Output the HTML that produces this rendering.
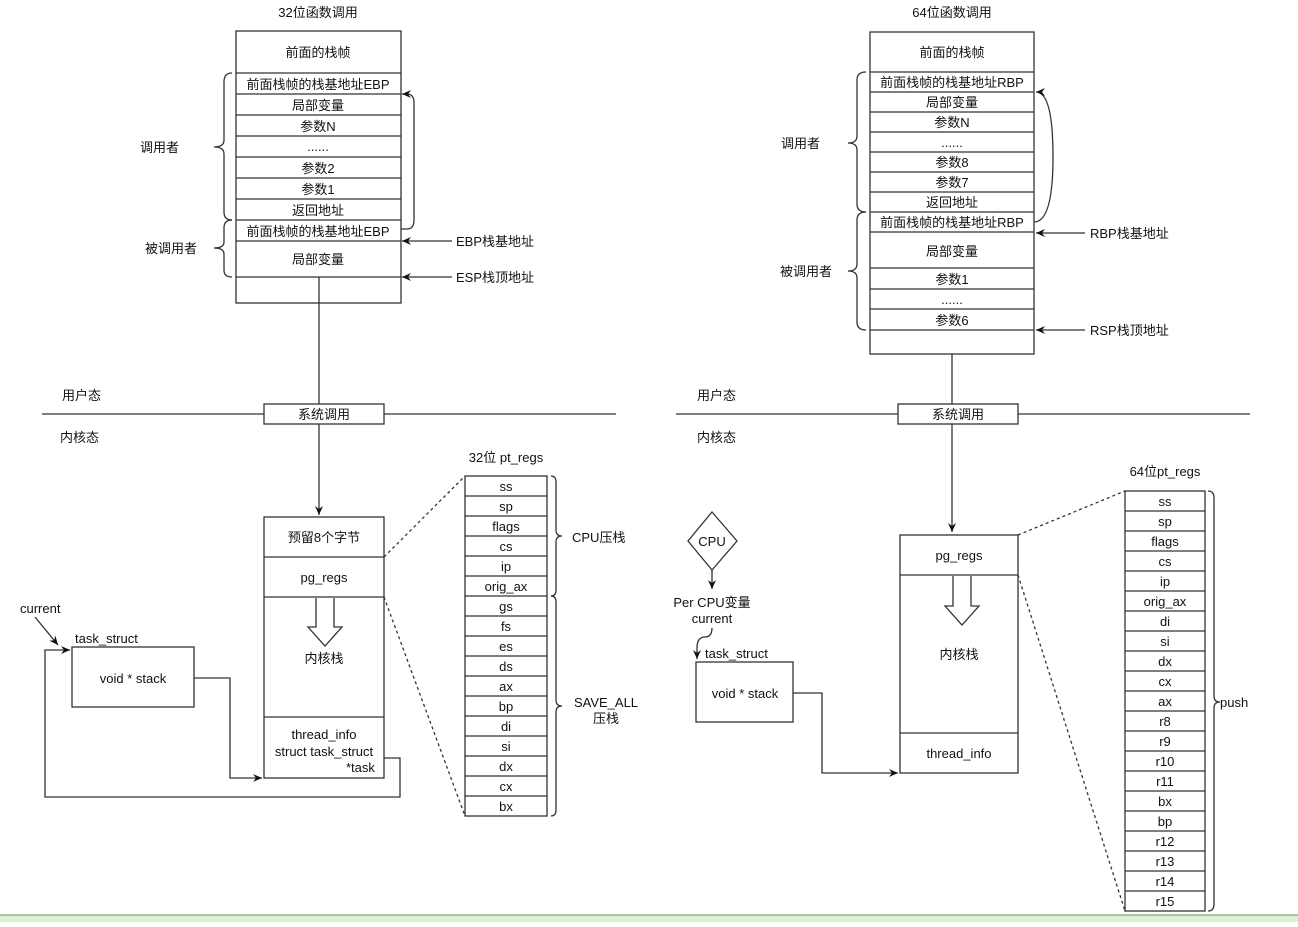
<!DOCTYPE html>
<html><head><meta charset="utf-8"><style>
body{margin:0;background:#fff}
svg text{font-family:"Liberation Sans","Noto Sans CJK SC",sans-serif;font-size:13px;fill:#111}
</style></head><body>
<svg width="1298" height="922" viewBox="0 0 1298 922" xmlns="http://www.w3.org/2000/svg">
<defs><marker id="a" markerWidth="10" markerHeight="10" refX="9" refY="5" orient="auto" markerUnits="userSpaceOnUse"><path d="M0,1 L9,5 L0,9 L3,5 z" fill="#111"/></marker></defs>
<g stroke="#333" stroke-width="1.3" fill="none">
<rect x="236" y="31" width="165" height="272"/>
<path d="M236 73H401M236 94H401M236 115H401M236 136H401M236 157H401M236 178H401M236 199H401M236 220H401M236 241H401M236 277H401"/>
<path d="M232 73 Q224 73 224 82 V140 Q224 147 214 147 Q224 147 224 154 V212 Q224 220 232 220"/>
<path d="M232 220 Q224 220 224 228 V242 Q224 248 214 248 Q224 248 224 254 V270 Q224 277 232 277"/>
<path d="M401 229 H407 Q414 229 414 220 V103 Q414 94 407 94 H402" marker-end="url(#a)"/>
<path d="M452 241 H402" marker-end="url(#a)"/>
<path d="M452 277 H402" marker-end="url(#a)"/>
<path d="M319 277 V515" marker-end="url(#a)"/>
<path d="M42 414 H616"/>
<rect x="264" y="404" width="120" height="20" fill="#fff"/>
<rect x="264" y="517" width="120" height="261"/>
<path d="M264 557H384M264 597H384M264 717H384"/>
<path d="M316 598 V627 H308 L325 646 L342 627 H334 V598"/>
<rect x="465" y="476" width="82" height="340"/>
<path d="M465 496H547M465 516H547M465 536H547M465 556H547M465 576H547M465 596H547M465 616H547M465 636H547M465 656H547M465 676H547M465 696H547M465 716H547M465 736H547M465 756H547M465 776H547M465 796H547"/>
<path d="M551 476 Q556 476 556 482 V530 Q556 536 562 536 Q556 536 556 542 V590 Q556 596 551 596"/>
<path d="M551 596 Q556 596 556 602 V700 Q556 706 562 706 Q556 706 556 712 V810 Q556 816 551 816"/>
<path d="M384 557 L465 476 M384 597 L465 816" stroke-dasharray="3,3"/>
<rect x="72" y="647" width="122" height="60"/>
<path d="M35 617 L58 645" marker-end="url(#a)"/>
<path d="M194 678 H230 V778 H262" marker-end="url(#a)"/>
<path d="M384 758 H400 V797 H45 V650 H70" marker-end="url(#a)"/>
<rect x="870" y="32" width="164" height="322"/>
<path d="M870 72H1034M870 92H1034M870 112H1034M870 132H1034M870 152H1034M870 172H1034M870 192H1034M870 212H1034M870 232H1034M870 268H1034M870 289H1034M870 309H1034M870 330H1034"/>
<path d="M866 72 Q857 72 857 80 V136 Q857 143 848 143 Q857 143 857 150 V204 Q857 212 866 212"/>
<path d="M866 212 Q857 212 857 220 V264 Q857 271 848 271 Q857 271 857 278 V322 Q857 330 866 330"/>
<path d="M1034 222 Q1053 222 1053 157 Q1053 92 1036 92" marker-end="url(#a)"/>
<path d="M1085 233 H1036" marker-end="url(#a)"/>
<path d="M1085 330 H1036" marker-end="url(#a)"/>
<path d="M952 354 V532" marker-end="url(#a)"/>
<path d="M676 414 H1250"/>
<rect x="898" y="404" width="120" height="20" fill="#fff"/>
<rect x="900" y="535" width="118" height="238"/>
<path d="M900 575H1018M900 733H1018"/>
<path d="M953 576 V606 H945 L962 625 L979 606 H971 V576"/>
<rect x="1125" y="491" width="80" height="420"/>
<path d="M1125 511H1205M1125 531H1205M1125 551H1205M1125 571H1205M1125 591H1205M1125 611H1205M1125 631H1205M1125 651H1205M1125 671H1205M1125 691H1205M1125 711H1205M1125 731H1205M1125 751H1205M1125 771H1205M1125 791H1205M1125 811H1205M1125 831H1205M1125 851H1205M1125 871H1205M1125 891H1205"/>
<path d="M1208 491 Q1214 491 1214 498 V696 Q1214 702 1220 702 Q1214 702 1214 708 V904 Q1214 911 1208 911"/>
<path d="M1018 535 L1125 491 M1018 575 L1125 911" stroke-dasharray="3,3"/>
<path d="M712 512 L737 541 L712 570 L688 541 z"/>
<path d="M712 570 V589" marker-end="url(#a)"/>
<path d="M712 628 Q712 637 705 637 Q697 637 697 648 V659" marker-end="url(#a)"/>
<rect x="696" y="662" width="97" height="60"/>
<path d="M793 693 H822 V773 H898" marker-end="url(#a)"/>
</g>
<rect x="0" y="915" width="1298" height="7" fill="#dff0d0"/>
<line x1="0" y1="915" x2="1298" y2="915" stroke="#6a9a50"/>
<g text-anchor="middle">
<text x="318" y="17">32位函数调用</text>
<text x="318" y="57">前面的栈帧</text>
<text x="318" y="89">前面栈帧的栈基地址EBP</text>
<text x="318" y="110">局部变量</text>
<text x="318" y="131">参数N</text>
<text x="318" y="151">......</text>
<text x="318" y="173">参数2</text>
<text x="318" y="194">参数1</text>
<text x="318" y="215">返回地址</text>
<text x="318" y="236">前面栈帧的栈基地址EBP</text>
<text x="318" y="264">局部变量</text>
<text x="324" y="419">系统调用</text>
<text x="324" y="542">预留8个字节</text>
<text x="324" y="582">pg_regs</text>
<text x="324" y="663" font-size="11">内核栈</text>
<text x="324" y="739">thread_info</text>
<text x="324" y="756">struct task_struct</text>
<text x="506" y="462">32位 pt_regs</text>
<g transform="translate(0,-4)">
<text x="506" y="495">ss</text><text x="506" y="515">sp</text><text x="506" y="535">flags</text><text x="506" y="555">cs</text><text x="506" y="575">ip</text><text x="506" y="595">orig_ax</text><text x="506" y="615">gs</text><text x="506" y="635">fs</text><text x="506" y="655">es</text><text x="506" y="675">ds</text><text x="506" y="695">ax</text><text x="506" y="715">bp</text><text x="506" y="735">di</text><text x="506" y="755">si</text><text x="506" y="775">dx</text><text x="506" y="795">cx</text><text x="506" y="815">bx</text>
</g>
<text x="606" y="707">SAVE_ALL</text><text x="606" y="723">压栈</text>
<text x="133" y="683">void * stack</text>
<text x="952" y="17">64位函数调用</text>
<text x="952" y="57">前面的栈帧</text>
<text x="952" y="87">前面栈帧的栈基地址RBP</text>
<text x="952" y="107">局部变量</text>
<text x="952" y="127">参数N</text>
<text x="952" y="147">......</text>
<text x="952" y="167">参数8</text>
<text x="952" y="187">参数7</text>
<text x="952" y="207">返回地址</text>
<text x="952" y="227">前面栈帧的栈基地址RBP</text>
<text x="952" y="256">局部变量</text>
<text x="952" y="284">参数1</text>
<text x="952" y="304">......</text>
<text x="952" y="325">参数6</text>
<text x="958" y="419">系统调用</text>
<text x="959" y="560">pg_regs</text>
<text x="959" y="659">内核栈</text>
<text x="959" y="758">thread_info</text>
<text x="1165" y="476">64位pt_regs</text>
<g transform="translate(0,-1)">
<text x="1165" y="507">ss</text><text x="1165" y="527">sp</text><text x="1165" y="547">flags</text><text x="1165" y="567">cs</text><text x="1165" y="587">ip</text><text x="1165" y="607">orig_ax</text><text x="1165" y="627">di</text><text x="1165" y="647">si</text><text x="1165" y="667">dx</text><text x="1165" y="687">cx</text><text x="1165" y="707">ax</text><text x="1165" y="727">r8</text><text x="1165" y="747">r9</text><text x="1165" y="767">r10</text><text x="1165" y="787">r11</text><text x="1165" y="807">bx</text><text x="1165" y="827">bp</text><text x="1165" y="847">r12</text><text x="1165" y="867">r13</text><text x="1165" y="887">r14</text><text x="1165" y="907">r15</text>
</g>
<text x="712" y="546">CPU</text>
<text x="712" y="607">Per CPU变量</text>
<text x="712" y="623">current</text>
<text x="745" y="698">void * stack</text>
</g>
<text x="140" y="152">调用者</text>
<text x="145" y="253">被调用者</text>
<text x="456" y="246">EBP栈基地址</text>
<text x="456" y="282">ESP栈顶地址</text>
<text x="62" y="400">用户态</text>
<text x="60" y="442">内核态</text>
<text x="346" y="772">*task</text>
<text x="572" y="542">CPU压栈</text>
<text x="20" y="613">current</text>
<text x="75" y="643">task_struct</text>
<text x="781" y="148">调用者</text>
<text x="780" y="276">被调用者</text>
<text x="1090" y="238">RBP栈基地址</text>
<text x="1090" y="335">RSP栈顶地址</text>
<text x="697" y="400">用户态</text>
<text x="697" y="442">内核态</text>
<text x="1220" y="707">push</text>
<text x="705" y="658">task_struct</text>
</svg>
</body></html>
